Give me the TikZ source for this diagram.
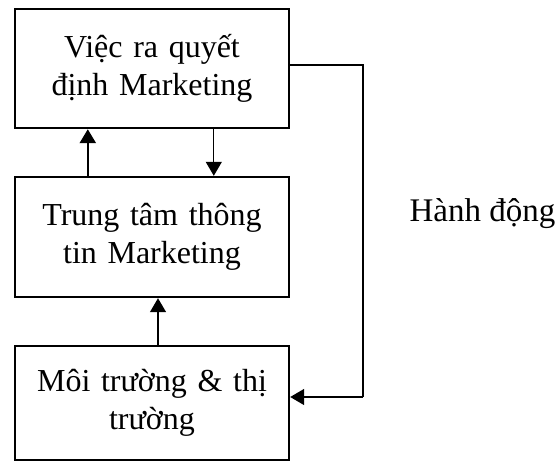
\documentclass[tikz,border=0pt]{standalone}
\usepackage{fontspec}
\setmainfont{Liberation Serif}
\usetikzlibrary{arrows.meta}
\begin{document}
\begin{tikzpicture}[x=1pt,y=-1pt,
  block/.style={draw,line width=2.4pt,minimum width=274pt,inner sep=0pt,
    text width=260pt,align=center,font=\fontsize{32}{38}\selectfont},
  tip/.style={-{Triangle[width=16pt,length=14pt]}},
  thick line/.style={line width=2.4pt},
  thin line/.style={line width=1.3pt}]
\useasboundingbox (0,0) rectangle (556,463);
\node[block,minimum height=119pt] (dec) at (152,68.5) {Việc ra quyết\\định Marketing};
\node[block,minimum height=120pt] (info) at (152,237) {Trung tâm thông\\tin Marketing};
\node[block,minimum height=114pt] (env) at (152,403) {Môi trường \& thị\\trường};
\node[font=\fontsize{33}{38}\selectfont,anchor=west] (act) at (406,214) {Hành động};
% flows between the blocks
\draw[tip,thick line] ([xshift=74pt]info.north west) -- ([xshift=74pt]dec.south west);
\draw[tip,thin line] ([xshift=200pt]dec.south west) -- ([xshift=200pt]info.north west);
\draw[tip,thin line] (env.north) ++(6pt,0) coordinate (envtop) -- (envtop |- info.south);
% action loop back to the environment
\coordinate (c1) at (363,65);
\coordinate (c2) at (363,397);
\draw[line width=2pt] (dec.east |- c1) -- (c1) -- (c2);
\draw[tip,line width=1.5pt] (c2) -- (env.east |- c2);
\end{tikzpicture}
\end{document}
